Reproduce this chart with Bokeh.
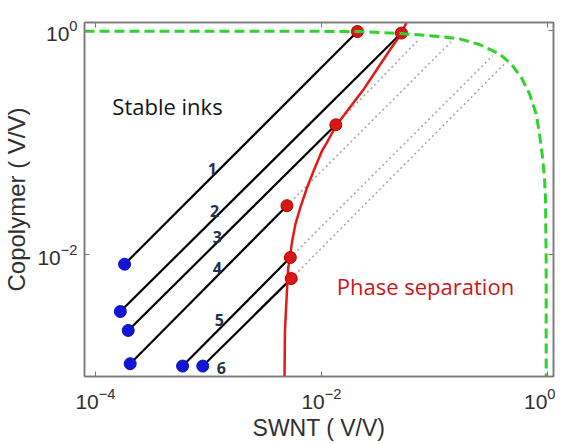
from bokeh.plotting import figure
from bokeh.models import LogAxis, FixedTicker, Range1d, Label, CustomJSTickFormatter
from bokeh.embed import file_html
from bokeh.resources import INLINE

# ---- data ----
line_labels = ["1", "2", "3", "4", "5", "6"]
blue_x = [1.81e-4, 1.66e-4, 1.95e-4, 2.03e-4, 5.9e-4, 8.9e-4]
blue_y = [8.2e-3, 3.1e-3, 2.1e-3, 1.06e-3, 1.01e-3, 1.01e-3]
red_x = [0.0208, 0.051, 0.0134, 0.00495, 0.0053, 0.0054]
red_y = [0.98, 0.95, 0.144, 0.0273, 0.0094, 0.0061]
# dotted continuation (lines 3-6) up to the outer boundary
dot_end_x = [0.0736, 0.144, 0.328, 0.416]
dot_end_y = [0.843, 0.814, 0.598, 0.504]

phase_x = [0.00471, 0.00475, 0.00490, 0.00507, 0.00525, 0.00551, 0.00589, 0.00651,
           0.00747, 0.00855, 0.01014, 0.01101, 0.01349, 0.0232, 0.0305, 0.0400,
           0.0507, 0.0565]
phase_y = [0.000815, 0.00209, 0.00388, 0.00745, 0.00946, 0.0133, 0.0188, 0.0264,
           0.0399, 0.0562, 0.0849, 0.0973, 0.142, 0.291, 0.440, 0.663,
           0.935, 1.18]

limit_x = [8.0e-5, 0.00638, 0.0217, 0.0510, 0.1107, 0.1665, 0.250, 0.376, 0.477, 0.585,
           0.693, 0.794, 0.849, 0.897, 0.940, 0.959, 0.973, 0.973]
limit_y = [0.985, 0.985, 0.98, 0.94, 0.884, 0.843, 0.750, 0.619, 0.504, 0.383,
           0.272, 0.180, 0.120, 0.0793, 0.049, 0.0325, 0.00884, 0.000815]

x_ticks = [1e-4, 1e-2, 1.0]
y_ticks = [1e-2, 1.0]

# ---- figure ----
p = figure(x_axis_type="log", y_axis_type="log",
           x_range=Range1d(8.0e-5, 1.13), y_range=Range1d(8.15e-4, 1.18),
           frame_width=469, frame_height=354,
           min_border_left=77, min_border_right=2, min_border_top=22, min_border_bottom=60,
           output_backend="svg", toolbar_location=None)
p.background_fill_color = "white"
p.border_fill_color = "white"
p.grid.visible = False
p.outline_line_color = "#7a7a7a"
p.outline_line_width = 1.5

for ax in (p.xaxis[0], p.yaxis[0]):
    ax.major_tick_in = 5
    ax.major_tick_out = 0
    ax.minor_tick_in = 0
    ax.minor_tick_out = 0
    ax.axis_line_color = "#7a7a7a"
    ax.axis_line_width = 1.5
    ax.major_tick_line_color = "#7a7a7a"
    ax.major_label_text_font = "Liberation Sans"
    ax.major_label_text_font_size = "21px"
    ax.major_label_text_color = "#303030"
    ax.axis_label_text_font = "Liberation Sans"
    ax.axis_label_text_font_style = "normal"
    ax.axis_label_text_color = "#303030"

p.xaxis[0].ticker = FixedTicker(ticks=x_ticks, minor_ticks=[])
p.yaxis[0].ticker = FixedTicker(ticks=y_ticks, minor_ticks=[])
p.xaxis[0].axis_label = "SWNT ( V/V)"
p.yaxis[0].axis_label = "Copolymer ( V/V)"
p.xaxis[0].axis_label_text_font_size = "23px"
p.yaxis[0].axis_label_text_font_size = "24px"
p.xaxis[0].major_label_standoff = 11
p.yaxis[0].major_label_standoff = 7
p.xaxis[0].axis_label_standoff = 3
p.yaxis[0].axis_label_standoff = 4

# top and right tick-only axes
blank = CustomJSTickFormatter(code="return '';")
top = LogAxis(ticker=FixedTicker(ticks=x_ticks, minor_ticks=[]), formatter=blank)
right = LogAxis(ticker=FixedTicker(ticks=y_ticks, minor_ticks=[]), formatter=blank)
for ax in (top, right):
    ax.major_tick_in = 5
    ax.major_tick_out = 0
    ax.minor_tick_in = 0
    ax.minor_tick_out = 0
    ax.axis_line_color = "#7a7a7a"
    ax.axis_line_width = 1.5
    ax.major_tick_line_color = "#7a7a7a"
    ax.major_label_text_font_size = "1px"
    ax.major_label_standoff = 0
p.add_layout(top, "above")
p.add_layout(right, "right")

# dotted continuations
for i in range(4):
    p.line([red_x[i + 2], dot_end_x[i]], [red_y[i + 2], dot_end_y[i]],
           line_color="#a8a8a8", line_width=1.6, line_dash="2 3")

# dilution lines
for i in range(6):
    p.line([blue_x[i], red_x[i]], [blue_y[i], red_y[i]], line_color="black", line_width=2.2)

# phase boundary
p.line(phase_x, phase_y, line_color="#e31a1a", line_width=2.5)

p.scatter(red_x, red_y, size=12, fill_color="#d81818", line_color="#b00000", line_width=1)
p.scatter(blue_x, blue_y, size=12, fill_color="#1414d8", line_color="#1010c0", line_width=1)

# outer limit
p.line(limit_x, limit_y, line_color="#2ed32e", line_width=3, line_dash="10 5")

# labels
lab_pos_x = [1.08e-3, 1.13e-3, 1.20e-3, 1.20e-3, 1.25e-3, 1.30e-3]
lab_pos_y = [0.0586, 0.0247, 0.0142, 0.00765, 0.00258, 0.00098]
for t, lx, ly in zip(line_labels, lab_pos_x, lab_pos_y):
    p.add_layout(Label(x=lx, y=ly, text=t, text_font="Open Sans", text_font_style="bold",
                       text_font_size="16px", text_color="#23324f",
                       text_align="center", text_baseline="middle"))

p.add_layout(Label(x=4.34e-4, y=0.21, text="Stable inks", text_font="Open Sans",
                   text_font_size="22px", text_color="#141414",
                   text_align="center", text_baseline="middle"))
p.add_layout(Label(x=0.0832, y=0.00528, text="Phase separation", text_font="Open Sans",
                   text_font_size="22px", text_color="#c8161e",
                   text_align="center", text_baseline="middle"))

open("out.html", "w").write(file_html(p, INLINE))
